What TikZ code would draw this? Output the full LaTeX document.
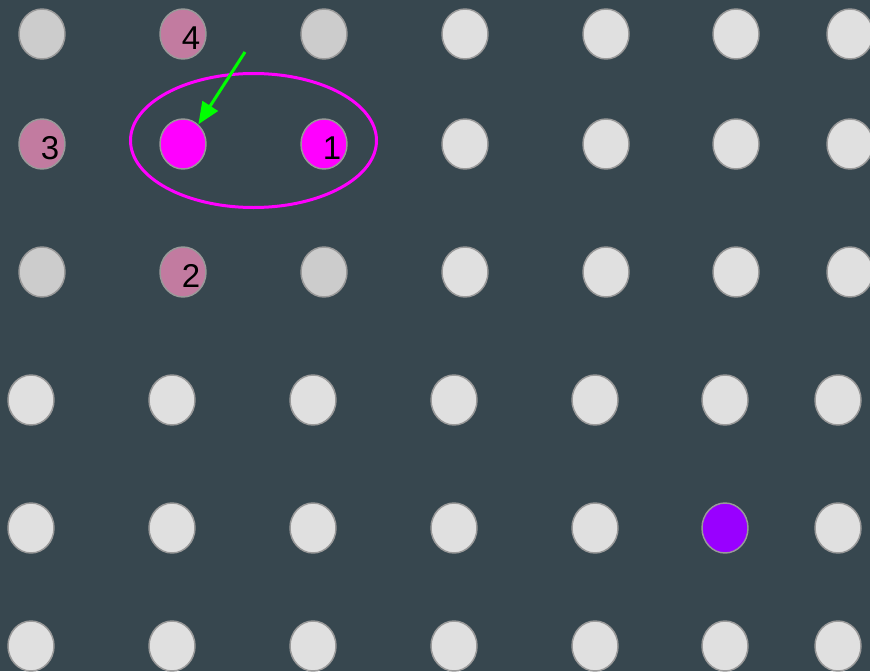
\documentclass[tikz,border=0pt]{standalone}
\usepackage{fontspec}
\setmainfont{Liberation Sans}
\usepackage{xcolor}
\usetikzlibrary{arrows.meta,positioning,shapes.geometric}

\definecolor{slate}{HTML}{37474F}
\definecolor{dotlight}{HTML}{E0E0E0}
\definecolor{dotgray}{HTML}{CCCCCC}
\definecolor{dotrim}{HTML}{999999}
\definecolor{dotpink}{HTML}{C27BA0}
\definecolor{dotmag}{HTML}{FF00FF}
\definecolor{dotviolet}{HTML}{9900FF}
\definecolor{ptrgreen}{HTML}{00FF00}

\begin{document}
\begin{tikzpicture}[
    x=0.75pt, y=-0.75pt,
    dot/.style={ellipse, draw=dotrim, line width=1.1pt, fill=dotlight, minimum width=34.5pt, minimum height=37.5pt, inner sep=0pt},
    gdot/.style={dot, fill=dotgray},
    pdot/.style={dot, fill=dotpink},
    mdot/.style={dot, fill=dotmag},
    vdot/.style={dot, fill=dotviolet},
    num/.style={label={[font=\fontsize{24.75}{28}\selectfont, text=black, inner sep=0pt, xshift=6pt, yshift=-3pt]center:#1}},
    ring/.style={ellipse, draw=dotmag, line width=2.25pt, minimum width=184.5pt, minimum height=100.5pt, inner sep=0pt},
    pointer/.style={-{Triangle[length=16.5pt, width=13.5pt]}, line width=2.25pt, draw=ptrgreen}
]
% --- Background / frame ---
\useasboundingbox (0,0) rectangle (870,671);
\fill[slate] (0,0) rectangle (870,671);

% --- Row 1 ---
\node[gdot] (r1c1) at (42,34) {};
\node[pdot, num=4] (r1c2) at (183,34) {};
\node[gdot] (r1c3) at (324,34) {};
\node[dot] (r1c4) at (465,34) {};
\node[dot] (r1c5) at (606,34) {};
\node[dot] (r1c6) at (736,34) {};
\node[dot] (r1c7) at (850,34) {};

% --- Row 2: selected pair ---
\node[pdot, num=3] (r2c1) at (42,144) {};
\node[mdot] (sel) at (183,144) {};
\node[mdot, num=1] (r2c3) at (324,144) {};
\node[dot] (r2c4) at (465,144) {};
\node[dot] (r2c5) at (606,144) {};
\node[dot] (r2c6) at (736,144) {};
\node[dot] (r2c7) at (850,144) {};

% --- Row 3 ---
\node[gdot] (r3c1) at (42,272) {};
\node[pdot, num=2] (r3c2) at (183,272) {};
\node[gdot] (r3c3) at (324,272) {};
\node[dot] (r3c4) at (465,272) {};
\node[dot] (r3c5) at (606,272) {};
\node[dot] (r3c6) at (736,272) {};
\node[dot] (r3c7) at (850,272) {};

% --- Row 4 ---
\node[dot] (r4c1) at (31,400) {};
\node[dot] (r4c2) at (172,400) {};
\node[dot] (r4c3) at (313,400) {};
\node[dot] (r4c4) at (454,400) {};
\node[dot] (r4c5) at (595,400) {};
\node[dot] (r4c6) at (725,400) {};
\node[dot] (r4c7) at (838,400) {};

% --- Row 5 ---
\node[dot] (r5c1) at (31,528) {};
\node[dot] (r5c2) at (172,528) {};
\node[dot] (r5c3) at (313,528) {};
\node[dot] (r5c4) at (454,528) {};
\node[dot] (r5c5) at (595,528) {};
\node[vdot] (r5c6) at (725,528) {};
\node[dot] (r5c7) at (838,528) {};

% --- Row 6 ---
\node[dot] (r6c1) at (31,646) {};
\node[dot] (r6c2) at (172,646) {};
\node[dot] (r6c3) at (313,646) {};
\node[dot] (r6c4) at (454,646) {};
\node[dot] (r6c5) at (595,646) {};
\node[dot] (r6c6) at (725,646) {};
\node[dot] (r6c7) at (838,646) {};

% --- Group ring and pointer ---
\node[ring] (grp) at (253.5,140.5) {};
\coordinate (tail) at (245,52);
\draw[pointer] (tail) -- (sel.52);
\end{tikzpicture}
\end{document}
